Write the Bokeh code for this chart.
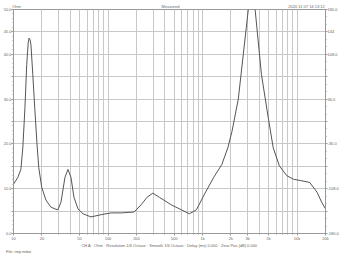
from bokeh.plotting import figure
from bokeh.models import (Range1d, LinearAxis, FixedTicker, LinearScale)
from bokeh.embed import file_html
from bokeh.resources import INLINE

# Frequency (Hz) and impedance (Ohm)
freq = [10, 11.1, 11.96, 12.55, 13.2, 13.8, 14.3, 14.6, 15.0, 15.3, 16.0, 16.8, 17.7, 18.5,
        19.9, 22.0, 24.8, 27.4, 29.5, 31.8, 35.0, 37.7, 40.6, 43.6, 48.1, 54.4,
        66.1, 84.5, 107.8, 138, 189, 224, 259, 298, 348, 467, 596, 725, 862,
        1050, 1310, 1600, 1850, 2050, 2390, 2700, 3050, 3300, 3600, 4200, 4970, 5600,
        6500, 7800, 9200, 11000, 13600, 16300, 18200, 20000]
ohm = [11.0, 12.5, 14.3, 19.1, 27.9, 37.7, 42.5, 43.6, 43.2, 42.1, 35.5, 27.9, 20.2, 14.7,
       10.3, 7.5, 5.9, 5.5, 5.3, 7.0, 12.5, 14.3, 12.5, 8.1, 5.5, 4.4,
       3.7, 4.2, 4.6, 4.6, 4.8, 6.4, 8.1, 9.0, 8.1, 6.4, 5.3, 4.4, 5.3,
       8.8, 12.5, 15.4, 19.1, 22.8, 30.0, 40.0, 50.0, 56.0, 50.0, 35.5, 25.7, 19.1,
       15.1, 12.9, 12.1, 11.8, 11.4, 9.2, 7.0, 5.5]

x_ticks = [10, 20, 50, 100, 200, 500, 1000, 2000, 3000, 5000, 10000, 20000]
x_labels = ["10", "20", "50", "100", "200", "500", "1k", "2k", "3k", "5k", "10k", "20k"]
x_minor = [m * d for d in [10, 100, 1000] for m in range(1, 10)] + [10000, 20000]

y_ticks = [0, 5, 10, 15, 20, 25, 30, 35, 40, 45, 50]
y_labels = ["0.0", "", "10.0", "", "20.0", "", "30.0", "", "40.0", "45.0", "50.0"]
ph_ticks = [-180, -144, -108, -72, -36, 0, 36, 72, 108, 144, 180]
ph_labels = ["-180.0", "", "-108.0", "", "-36.0", "", "36.0", "", "108.0", "144", "180.0"]

top_texts = ["Ohm", "Measured", "2020 11 07 14:13:12"]
caption = "CH A · Ohm · Resolution 1/6 Octave · Smooth 1/6 Octave · Delay (ms) 0.000 · Zero Pos (dB) 0.000"
file_text = "File: imp.mdat"

TXT = "#666666"
GRID = "#c8c8c8"
AX = "#999999"
FONT = "Liberation Sans"

p = figure(width=342, height=256, x_axis_type="log", output_backend="svg",
           toolbar_location=None, x_range=Range1d(10, 20000), y_range=Range1d(0, 50),
           min_border_left=12, min_border_right=17, min_border_top=9, min_border_bottom=19,
           background_fill_color="white", border_fill_color="white")
p.outline_line_color = AX
p.outline_line_width = 1

p.xaxis.ticker = FixedTicker(ticks=x_ticks, minor_ticks=x_minor)
p.xaxis.major_label_overrides = {t: l for t, l in zip(x_ticks, x_labels)}
p.xaxis.axis_label = caption
p.xaxis.axis_label_text_font_size = "4px"
p.xaxis.axis_label_text_font_style = "normal"
p.xaxis.axis_label_text_color = TXT
p.xaxis.axis_label_text_font = FONT
p.xaxis.axis_label_standoff = -1
p.yaxis.ticker = FixedTicker(ticks=y_ticks, minor_ticks=list(range(0, 51)))
p.yaxis.major_label_overrides = {t: l for t, l in zip(y_ticks, y_labels)}

p.extra_y_ranges = {"ph": Range1d(-180, 180)}
rax = LinearAxis(y_range_name="ph")
rax.ticker = FixedTicker(ticks=ph_ticks, minor_ticks=list(range(-180, 181, 12)))
rax.major_label_overrides = {t: l for t, l in zip(ph_ticks, ph_labels)}
p.add_layout(rax, "right")

for ax in [p.xaxis[0], p.yaxis[0], rax]:
    ax.major_label_text_font_size = "4px"
    ax.major_label_text_color = TXT
    ax.major_label_text_font = FONT
    ax.axis_line_color = AX
    ax.major_tick_line_color = AX
    ax.minor_tick_line_color = AX
    ax.major_tick_out = 2
    ax.major_tick_in = 0
    ax.minor_tick_out = 1
    ax.minor_tick_in = 0
    ax.major_label_standoff = 0

# a pixel-like range across the frame, used only to place header/footer texts
p.extra_x_ranges = {"cv": Range1d(13, 325)}
p.extra_x_scales = {"cv": LinearScale()}

def text_axis(texts, centers, place, standoff):
    a = LinearAxis(x_range_name="cv")
    a.ticker = FixedTicker(ticks=centers, minor_ticks=[])
    a.major_label_overrides = {c: t for c, t in zip(centers, texts)}
    a.major_label_text_font_size = "4px"
    a.major_label_text_color = TXT
    a.major_label_text_font = FONT
    a.axis_line_color = None
    a.major_tick_line_color = None
    a.minor_tick_line_color = None
    a.major_tick_out = 0
    a.major_tick_in = 0
    a.major_label_standoff = standoff
    p.add_layout(a, place)

text_axis(top_texts, [16, 170, 306], "above", 1)
text_axis([file_text], [18], "below", -2)

p.xgrid.grid_line_color = GRID
p.xgrid.minor_grid_line_color = GRID
p.ygrid.grid_line_color = GRID

p.line(freq, ohm, line_color="#555555", line_width=1)

open("out.html", "w").write(file_html(p, INLINE))
